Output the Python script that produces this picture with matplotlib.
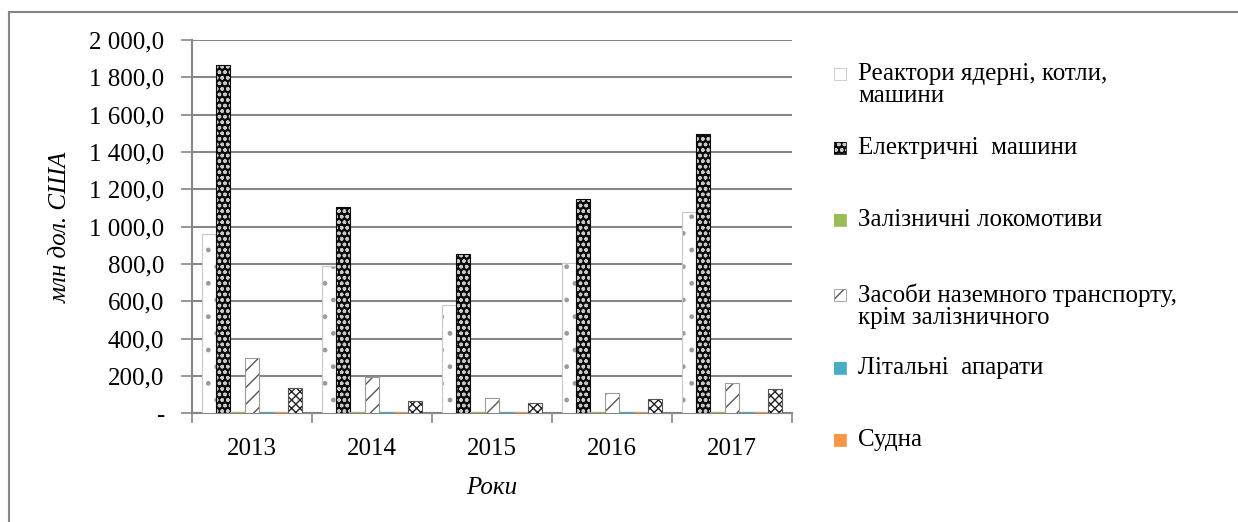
import numpy as np
import matplotlib.pyplot as plt
from matplotlib.patches import Rectangle
from matplotlib.lines import Line2D
from matplotlib.ticker import FuncFormatter

plt.rcParams['font.family'] = ['Liberation Serif', 'DejaVu Serif']
plt.rcParams['hatch.linewidth'] = 1.0

years = ['2013', '2014', '2015', '2016', '2017']
series_names = [
    'Реактори ядерні, котли,\nмашини',
    'Електричні  машини',
    'Залізничні локомотиви',
    'Засоби наземного транспорту,\nкрім залізничного',
    'Літальні  апарати',
    'Судна',
    None,
]
reactors = [962, 789, 580, 803, 1078]
electric = [1865, 1105, 853, 1146, 1495]
rail = [7, 6, 5, 6, 7]
land = [294, 196, 80, 107, 164]
aircraft = [6, 6, 5, 6, 6]
ships = [7, 6, 6, 6, 7]
other = [133, 68, 54, 79, 128]
values = [reactors, electric, rail, land, aircraft, ships, other]

# (face, hatch colour, hatch, outline)
styles = [
    ('white', '#9a9a9a', '.', '#c8c8c8'),
    ('#0a0a0a', '#c8c8c8', 'ooo', '#0a0a0a'),
    ('#9bbb59', '#9bbb59', None, '#9bbb59'),
    ('white', '#555555', '//', '#9a9a9a'),
    ('#4bacc6', '#4bacc6', None, '#4bacc6'),
    ('#f79646', '#f79646', None, '#f79646'),
    ('white', '#222222', 'xxxx', '#555555'),
]

W, H = 1238, 522
fs = 18
fig = plt.figure(figsize=(W / 100, H / 100), dpi=100)
ax = fig.add_axes([192 / W, 1 - 413.3 / H, 600 / W, 373.3 / H])

x = np.arange(len(years))
bw = 0.12
n = len(values)
for i, (vals, st) in enumerate(zip(values, styles)):
    face, hc, hatch, edge = st
    pos = x - bw * (n - 1) / 2 + i * bw
    ax.bar(pos, vals, bw, color=face, edgecolor=hc, hatch=hatch, linewidth=0, zorder=3)
    ax.bar(pos, vals, bw, color='none', edgecolor=edge, linewidth=0.8, zorder=4)

ax.set_xlim(-0.5, len(years) - 0.5)
ax.set_ylim(0, 2000)
ax.set_yticks(np.arange(0, 2001, 200))


def fmt(v, _):
    if v == 0:
        return '-'
    s = f'{v:,.1f}'.replace(',', ' ').replace('.', ',')
    return s


ax.yaxis.set_major_formatter(FuncFormatter(fmt))
ax.set_xticks(x)
ax.set_xticklabels(years)
ax.set_xticks(np.arange(-0.5, len(years)), minor=True)
ax.tick_params(axis='x', which='major', length=0, pad=18, labelsize=fs)
ax.tick_params(axis='x', which='minor', length=7, color='#868686', width=1.2)
ax.tick_params(axis='y', length=8, color='#868686', width=1.2, labelsize=fs, pad=12)
ax.grid(axis='y', color='#868686', linewidth=1.5, zorder=0)
for s in ['top', 'right']:
    ax.spines[s].set_visible(False)
for s in ['left', 'bottom']:
    ax.spines[s].set_color('#868686')
    ax.spines[s].set_linewidth(1.5)
ax.set_axisbelow(True)

fig.text(61 / W, 1 - 227 / H, 'млн дол. США', rotation=90, style='italic',
         fontsize=fs, ha='center', va='center')
fig.text(492 / W, 1 - 488 / H, 'Роки', style='italic', fontsize=fs,
         ha='center', va='center')

# legend drawn by hand to follow the uneven spacing of the original
legend_y = [74, 148, 220, 295, 368, 440]
for name, st, ly in zip(series_names, styles, legend_y):
    face, hc, hatch, edge = st
    fig.add_artist(Rectangle((834 / W, 1 - (ly + 6) / H), 12 / W, 12 / H,
                             transform=fig.transFigure, facecolor=face,
                             edgecolor=hc, hatch=hatch, linewidth=0))
    fig.add_artist(Rectangle((834 / W, 1 - (ly + 6) / H), 12 / W, 12 / H,
                             transform=fig.transFigure, facecolor='none',
                             edgecolor=edge, linewidth=0.6))
    cy = ly + 11.5 if '\n' in name else ly
    fig.text(858 / W, 1 - cy / H, name, fontsize=fs, ha='left', va='center',
             linespacing=1.0)

# chart frame (cropped on the right and bottom)
fig.add_artist(Line2D([9 / W, 9 / W], [0, 1 - 12 / H], color='#868686', lw=1.5,
                      transform=fig.transFigure))
fig.add_artist(Line2D([9 / W, 1], [1 - 12 / H, 1 - 12 / H], color='#868686', lw=1.5,
                      transform=fig.transFigure))

fig.savefig('out.png', dpi=100)
